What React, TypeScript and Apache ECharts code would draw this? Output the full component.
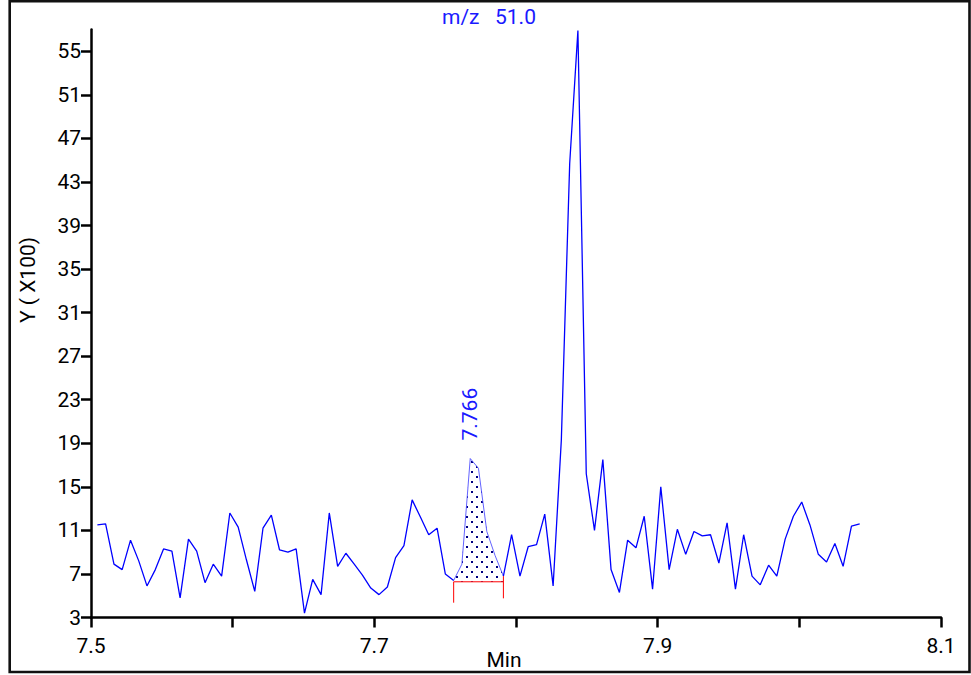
import React, { useEffect, useRef } from "react";
import * as echarts from "echarts";

// Retention time (min) of each scan
const times = [
  7.5045, 7.5103, 7.5162, 7.5220, 7.5279, 7.5337, 7.5395, 7.5454, 7.5512, 7.5571,
  7.5629, 7.5688, 7.5746, 7.5805, 7.5863, 7.5922, 7.5980, 7.6039, 7.6097, 7.6156,
  7.6214, 7.6273, 7.6331, 7.6390, 7.6448, 7.6507, 7.6565, 7.6624, 7.6682, 7.6741,
  7.6799, 7.6858, 7.6916, 7.6975, 7.7033, 7.7092, 7.7150, 7.7209, 7.7267, 7.7326,
  7.7384, 7.7443, 7.7501, 7.7560, 7.7618, 7.7677, 7.7735, 7.7794, 7.7852, 7.7911,
  7.7969, 7.8028, 7.8086, 7.8145, 7.8203, 7.8262, 7.8320, 7.8379, 7.8437, 7.8496,
  7.8554, 7.8613, 7.8671, 7.8730, 7.8788, 7.8847, 7.8905, 7.8964, 7.9022, 7.9081,
  7.9139, 7.9198, 7.9256, 7.9315, 7.9373, 7.9432, 7.9490, 7.9549, 7.9607, 7.9666,
  7.9724, 7.9783, 7.9841, 7.9900, 7.9958, 8.0017, 8.0075, 8.0134, 8.0192, 8.0251,
  8.0309, 8.0368, 8.0426,
];

// Intensity (x100) of m/z 51.0 at each scan
const intensities = [
  11.5, 11.6, 7.9, 7.4, 10.1, 8.2, 5.9, 7.4, 9.3, 9.1,
  4.8, 10.2, 9.1, 6.2, 7.9, 6.8, 12.6, 11.3, 8.3, 5.4,
  11.2, 12.4, 9.2, 9.0, 9.3, 3.4, 6.5, 5.1, 12.6, 7.7,
  8.9, 7.9, 6.9, 5.7, 5.1, 5.8, 8.5, 9.6, 13.8, 12.2,
  10.6, 11.2, 7.0, 6.4, 7.9, 17.6, 16.7, 10.9, 8.7, 6.8,
  10.6, 6.8, 9.5, 9.7, 12.5, 5.9, 19.3, 44.7, 56.9, 16.2,
  11.0, 17.5, 7.4, 5.3, 10.1, 9.4, 12.3, 5.6, 15.0, 7.4,
  11.1, 8.8, 10.9, 10.5, 10.6, 8.0, 11.7, 5.6, 10.6, 6.8,
  6.0, 7.8, 6.8, 10.2, 12.3, 13.6, 11.5, 8.8, 8.1, 9.8,
  7.7, 11.4, 11.6,
];

const yTicks = [3, 7, 11, 15, 19, 23, 27, 31, 35, 39, 43, 47, 51, 55];
const xTicks = [7.5, 7.6, 7.7, 7.8, 7.9, 8.0, 8.1];
const xLabels = [7.5, 7.7, 7.9, 8.1];

// Integrated peak
const peakStartIndex = 43;
const peakEndIndex = 49;
const peakApexIndex = 45;
const peakLabel = "7.766";
const peakBaseline = 6.28;
const markerBottoms = [4.36, 4.76];

const titleParts = ["m/z", "51.0"];
const xAxisName = "Min";
const yAxisName = "Y ( X100)";

const FONT = "Roboto";
const FS = 21;

function makeDotPattern() {
  const c = document.createElement("canvas");
  c.width = 10;
  c.height = 10;
  const ctx = c.getContext("2d")!;
  ctx.fillStyle = "#ffffff";
  ctx.fillRect(0, 0, 10, 10);
  ctx.fillStyle = "#000080";
  ctx.fillRect(1, 1, 2, 2);
  ctx.fillRect(6, 6, 2, 2);
  return c.toDataURL();
}

export default function App() {
  const ref = useRef<HTMLDivElement>(null);
  useEffect(() => {
    if (!ref.current) return;
    const chart = echarts.init(ref.current, undefined, { renderer: "svg" });

    const mainData = times.map((t, i) => [
      t,
      i > peakStartIndex && i < peakEndIndex ? null : intensities[i],
    ]);
    const peakData = times
      .slice(peakStartIndex, peakEndIndex + 1)
      .map((t, k) => [t, intensities[peakStartIndex + k]]);
    const tStart = times[peakStartIndex];
    const tEnd = times[peakEndIndex];

    chart.setOption({
      animation: false,
      backgroundColor: "#ffffff",
      grid: {
        left: 91,
        right: 30,
        top: 29.5,
        bottom: 57.5,
        containLabel: false,
        outerBoundsMode: "none",
      },
      xAxis: {
        type: "value",
        min: 7.5,
        max: 8.1,
        axisLine: { show: true, onZero: false, lineStyle: { color: "#000", width: 2.5 } },
        axisTick: {
          show: true,
          length: 10,
          customValues: xTicks,
          lineStyle: { color: "#000", width: 2.5 },
        },
        axisLabel: {
          customValues: xLabels,
          margin: 18,
          color: "#000",
          fontSize: FS,
          fontFamily: FONT,
          formatter: (v: number) => v.toFixed(1),
        },
        splitLine: { show: false },
      },
      yAxis: {
        type: "value",
        min: 3,
        max: 57,
        axisLine: { show: true, lineStyle: { color: "#000", width: 2.5 } },
        axisTick: {
          show: true,
          length: 10,
          customValues: yTicks,
          lineStyle: { color: "#000", width: 2.5 },
        },
        axisLabel: {
          customValues: yTicks,
          margin: 10,
          color: "#000",
          fontSize: FS,
          fontFamily: FONT,
          padding: [8, 0, 0, 0],
          formatter: (v: number) => String(v),
        },
        splitLine: { show: false },
      },
      series: [
        {
          type: "line",
          data: mainData,
          symbol: "none",
          connectNulls: false,
          lineStyle: { color: "#0000ff", width: 1.3 },
          z: 3,
        },
        {
          type: "line",
          data: peakData,
          symbol: "none",
          lineStyle: { color: "#3a3aff", width: 0.8 },
          areaStyle: {
            origin: peakBaseline,
            opacity: 1,
            color: {
              image: makeDotPattern(),
              repeat: "repeat",
              imageWidth: 10,
              imageHeight: 10,
            },
          },
          z: 2,
        },
        {
          type: "line",
          data: [
            [tStart, markerBottoms[0]],
            [tStart, peakBaseline],
            [tEnd, peakBaseline],
          ],
          symbol: "none",
          lineStyle: { color: "#ff0000", width: 1 },
          z: 4,
        },
        {
          type: "line",
          data: [
            [tEnd, intensities[peakEndIndex]],
            [tEnd, markerBottoms[1]],
          ],
          symbol: "none",
          lineStyle: { color: "#ff0000", width: 1 },
          z: 4,
        },
        {
          type: "scatter",
          data: [[times[peakApexIndex], intensities[peakApexIndex]]],
          symbolSize: 0,
          itemStyle: { opacity: 1 },
          label: {
            show: true,
            position: "top",
            distance: 18,
            rotate: 90,
            align: "left",
            verticalAlign: "middle",
            formatter: peakLabel,
            color: "#1a1aff",
            opacity: 1,
            fontSize: FS,
            fontFamily: FONT,
          },
          z: 5,
        },
      ],
      graphic: [
        {
          type: "text",
          left: 442,
          top: 6,
          style: { text: titleParts[0], fill: "#1a1aff", fontSize: FS, fontFamily: FONT },
        },
        {
          type: "text",
          left: 495,
          top: 6,
          style: { text: titleParts[1], fill: "#1a1aff", fontSize: FS, fontFamily: FONT },
        },
        {
          type: "text",
          x: 28,
          y: 280,
          rotation: Math.PI / 2,
          style: {
            text: yAxisName,
            fill: "#000",
            fontSize: FS,
            fontFamily: FONT,
            align: "center",
            verticalAlign: "middle",
          },
        },
        {
          type: "text",
          x: 504,
          y: 660,
          style: {
            text: xAxisName,
            fill: "#000",
            fontSize: FS,
            fontFamily: FONT,
            align: "center",
            verticalAlign: "middle",
          },
        },
        {
          type: "rect",
          shape: { x: 9.7, y: 1.3, width: 959.8, height: 670.7 },
          style: { fill: "none", stroke: "#111", lineWidth: 2.6 },
          z: 100,
        },
      ],
    });
    return () => chart.dispose();
  }, []);
  return (
    <div
      ref={ref}
      style={{ position: "absolute", left: 0, top: 0, width: 971, height: 675 }}
    />
  );
}
